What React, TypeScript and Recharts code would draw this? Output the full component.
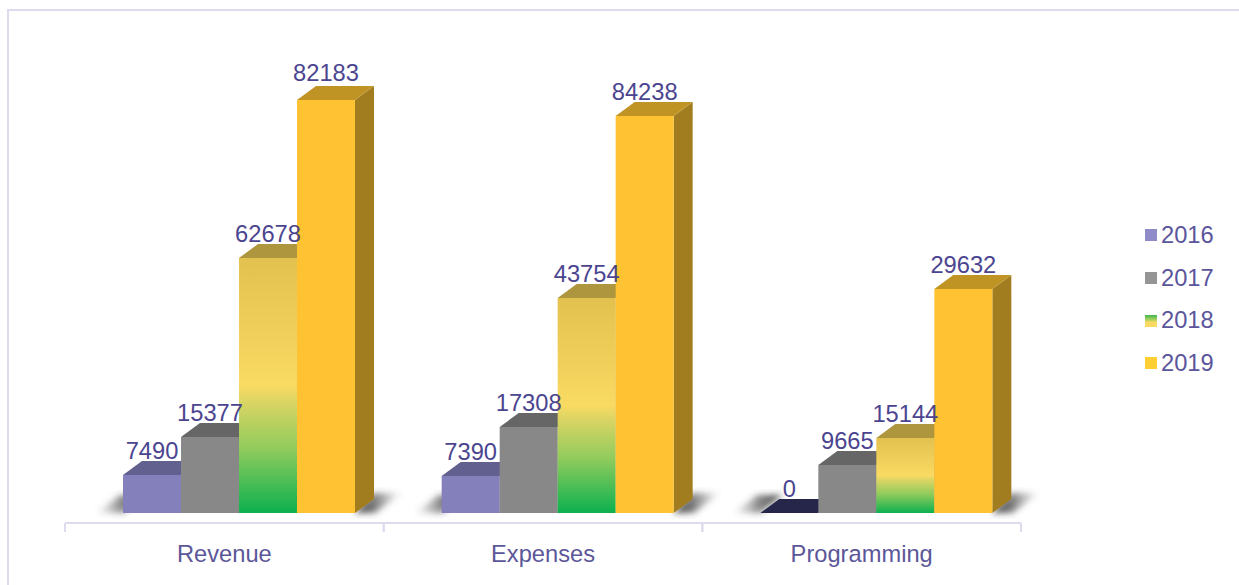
import { Bar, BarChart, LabelList, Legend, XAxis, YAxis } from "recharts";

const CATEGORIES = ["Revenue", "Expenses", "Programming"];
const YEARS = ["2016", "2017", "2018", "2019"];

// printed on the chart
const LABELS_2016 = [7490, 7390, 0];
const LABELS_2017 = [15377, 17308, 9665];
const LABELS_2018 = [62678, 43754, 15144];
const LABELS_2019 = [82183, 84238, 29632];

// drawn bar heights (they do not follow the printed labels exactly)
const HEIGHTS_2016 = [7600, 7400, 0];
const HEIGHTS_2017 = [15200, 17200, 9600];
const HEIGHTS_2018 = [51000, 43000, 15000];
const HEIGHTS_2019 = [82600, 79400, 44800];

const data = CATEGORIES.map((name, i) => ({
  name,
  h2016: HEIGHTS_2016[i],
  h2017: HEIGHTS_2017[i],
  h2018: HEIGHTS_2018[i],
  h2019: HEIGHTS_2019[i],
  l2016: LABELS_2016[i],
  l2017: LABELS_2017[i],
  l2018: LABELS_2018[i],
  l2019: LABELS_2019[i],
}));

const WIDTH = 1239;
const HEIGHT = 585;
const LEGEND_WIDTH = 90;
const AXIS_HEIGHT = 40;
const MARGIN = { top: 20, right: 128, bottom: 22, left: 65 };
const AXIS_Y = HEIGHT - MARGIN.bottom - AXIS_HEIGHT;
const BAND = (WIDTH - MARGIN.left - MARGIN.right - LEGEND_WIDTH) / CATEGORIES.length;
const FONT = "'Liberation Sans', Arial, sans-serif";
const FRAME = "#dddbee";
const DEPTH_X = 19;
const DEPTH_Y = 14;
const SHIFT = 15;

const SWATCHES = [
  "#8f8bc9",
  "#959595",
  "linear-gradient(#3fb64f 0%, #9ccf5c 35%, #f9da62 60%, #f9da62 100%)",
  "#ffcf33",
];

function box3d(front: string, top: string, side: string, shadow?: "left" | "right") {
  return function Box(props: any) {
    const x = props.x + SHIFT;
    const w = props.width;
    const y = props.y;
    const base = props.y + props.height;
    const dx = DEPTH_X;
    const dy = DEPTH_Y;
    const empty = props.height < 1;
    return (
      <g>
        {shadow === "left" && (
          <polygon
            points={`${x - 27},${base} ${x - 3},${base - 18} ${x + 22},${base - 18} ${x},${base}`}
            fill="url(#shadowLeft)"
            filter="url(#soft)"
          />
        )}
        {shadow === "right" && (
          <polygon
            points={`${x + w},${base} ${x + w + dx},${base - 20} ${x + w + dx + 28},${base - 20} ${x + w + 20},${base}`}
            fill="url(#shadowRight)"
            filter="url(#soft)"
          />
        )}
        <polygon
          points={`${x + w},${y} ${x + w + dx},${y - dy} ${x + w + dx},${base - dy} ${x + w},${base}`}
          fill={side}
        />
        <polygon
          points={`${x},${y} ${x + dx},${y - dy} ${x + w + dx},${y - dy} ${x + w},${y}`}
          fill={empty ? "#26264a" : top}
        />
        <rect x={x} y={y} width={w} height={props.height} fill={front} />
      </g>
    );
  };
}

function ValueLabel(props: any) {
  // the label of the tallest bar sits a bit higher in the original
  const lift = props.y < 110 ? 19 : 16;
  return (
    <text
      x={props.x + props.width / 2 + SHIFT}
      y={props.y - lift}
      textAnchor="middle"
      fontFamily={FONT}
      fontSize={23.7}
      fill="#4b4590"
    >
      {props.value}
    </text>
  );
}

function CategoryTick(props: any) {
  const { x, payload } = props;
  return (
    <g>
      <line x1={x - BAND / 2} x2={x - BAND / 2} y1={AXIS_Y} y2={AXIS_Y + 9} stroke={FRAME} strokeWidth={2} />
      <line x1={x + BAND / 2} x2={x + BAND / 2} y1={AXIS_Y} y2={AXIS_Y + 9} stroke={FRAME} strokeWidth={2} />
      <text x={x} y={AXIS_Y + 39} textAnchor="middle" fontFamily={FONT} fontSize={23.7} fill="#5c5799">
        {payload.value}
      </text>
    </g>
  );
}

function YearLegend() {
  return (
    <div style={{ fontFamily: FONT, fontSize: 23.7, color: "#5b559c" }}>
      {YEARS.map((year, i) => (
        <div key={year} style={{ display: "flex", alignItems: "center", height: 42.7 }}>
          <span style={{ width: 12, height: 12, marginRight: 4, background: SWATCHES[i] }} />
          {year}
        </div>
      ))}
    </div>
  );
}

export default function App() {
  return (
    <div style={{ position: "absolute", left: 0, top: 0, width: WIDTH, height: HEIGHT, background: "#fff", overflow: "hidden" }}>
      <div
        style={{
          position: "absolute",
          left: 7,
          top: 9,
          right: 0,
          bottom: 0,
          borderLeft: `2px solid ${FRAME}`,
          borderTop: `2px solid ${FRAME}`,
        }}
      />
      <BarChart
        width={WIDTH}
        height={HEIGHT}
        data={data}
        margin={MARGIN}
        barGap={0}
        barSize={58}
        style={{ position: "absolute", left: 0, top: 0 }}
      >
        <defs>
          <linearGradient id="bar2018" x1="0" y1="0" x2="0" y2="1">
            <stop offset="0" stopColor="#e3c14f" />
            <stop offset="0.5" stopColor="#f9da62" />
            <stop offset="0.56" stopColor="#dcd564" />
            <stop offset="0.75" stopColor="#8fcb5c" />
            <stop offset="1" stopColor="#0cb04f" />
          </linearGradient>
          <linearGradient id="shadowRight" x1="0" y1="0" x2="1" y2="0">
            <stop offset="0" stopColor="#222" stopOpacity={0.9} />
            <stop offset="0.4" stopColor="#333" stopOpacity={0.65} />
            <stop offset="1" stopColor="#555" stopOpacity={0} />
          </linearGradient>
          <linearGradient id="shadowLeft" x1="1" y1="0" x2="0" y2="0">
            <stop offset="0" stopColor="#222" stopOpacity={0.9} />
            <stop offset="0.45" stopColor="#333" stopOpacity={0.6} />
            <stop offset="1" stopColor="#555" stopOpacity={0} />
          </linearGradient>
          <filter id="soft" x="-30%" y="-30%" width="160%" height="160%">
            <feGaussianBlur stdDeviation="3" />
          </filter>
        </defs>
        <XAxis
          dataKey="name"
          interval={0}
          axisLine={{ stroke: FRAME, strokeWidth: 2 }}
          tickLine={false}
          tick={<CategoryTick />}
          height={AXIS_HEIGHT}
        />
        <YAxis hide domain={[-2000, 98600]} allowDataOverflow />
        <Legend
          layout="vertical"
          align="right"
          verticalAlign="top"
          wrapperStyle={{ left: 1145, top: 214, width: LEGEND_WIDTH }}
          content={<YearLegend />}
        />
        <Bar dataKey="h2016" name="2016" isAnimationActive={false} shape={box3d("#8480bb", "#62608f", "#62608f", "left")}>
          <LabelList dataKey="l2016" content={<ValueLabel />} />
        </Bar>
        <Bar dataKey="h2017" name="2017" isAnimationActive={false} shape={box3d("#888888", "#666666", "#666666")}>
          <LabelList dataKey="l2017" content={<ValueLabel />} />
        </Bar>
        <Bar dataKey="h2018" name="2018" isAnimationActive={false} shape={box3d("url(#bar2018)", "#ae963e", "#ae963e")}>
          <LabelList dataKey="l2018" content={<ValueLabel />} />
        </Bar>
        <Bar dataKey="h2019" name="2019" isAnimationActive={false} shape={box3d("#ffc232", "#c09325", "#a27d20", "right")}>
          <LabelList dataKey="l2019" content={<ValueLabel />} />
        </Bar>
      </BarChart>
    </div>
  );
}
